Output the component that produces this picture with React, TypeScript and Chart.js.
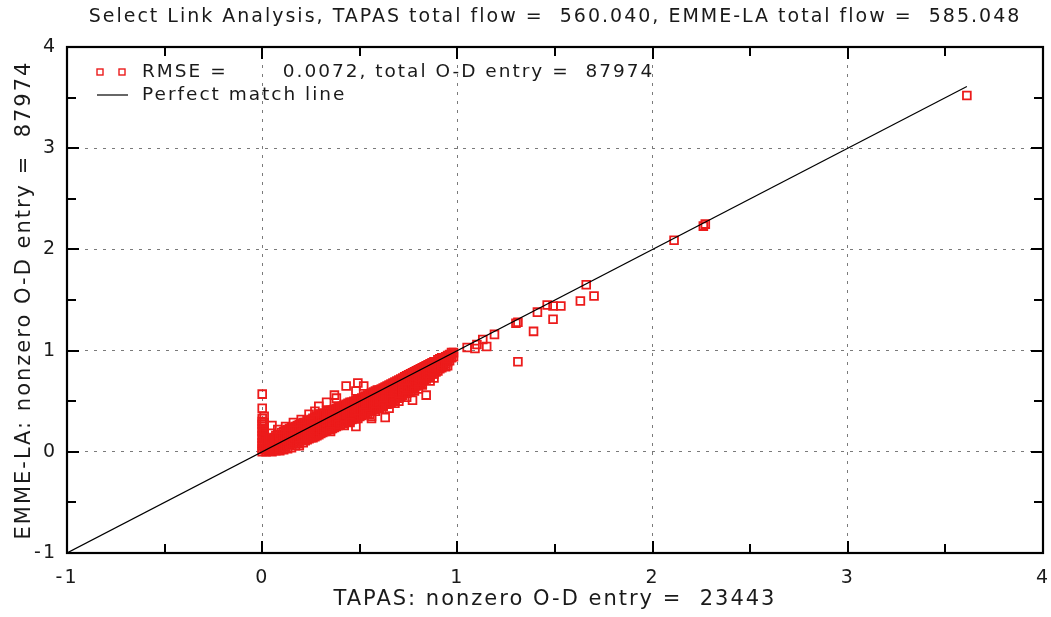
import { useEffect, useRef } from "react";
import { Chart, registerables } from "chart.js";

Chart.register(...registerables);

const titleText = "Select Link Analysis, TAPAS total flow =  560.040, EMME-LA total flow =  585.048";
const xAxisTitle = "TAPAS: nonzero O-D entry =  23443";
const yAxisTitle = "EMME-LA: nonzero O-D entry =  87974";
const scatterLabel = "RMSE =       0.0072, total O-D entry =  87974";
const lineLabel = "Perfect match line";

const axisMin = -1;
const axisMax = 4;
const majorTicks = [-1, 0, 1, 2, 3, 4];
const minorTicks = [-0.5, 0.5, 1.5, 2.5, 3.5];
const gridValues = [0, 1, 2, 3];

// perfect match line end points (TAPAS = EMME-LA)
const matchLine = [-1, 3.61];

// points where TAPAS is ~0
const zeroTapasPoints: [number, number][] = [
  [0, 0.0], [0, 0.03], [0, 0.06], [0, 0.09], [0.01, 0.11], [0, 0.13], [0, 0.16], [0.01, 0.18],
  [0, 0.2], [0, 0.23], [0.01, 0.25], [0, 0.27], [0, 0.3], [0, 0.33], [0.01, 0.35], [0, 0.43], [0, 0.57],
  [0.01, 0.02], [0.01, 0.07], [0.01, 0.14], [0.01, 0.21], [0.01, 0.29],
];

// dense band: TAPAS value, then the EMME-LA values read at that TAPAS value
const bandColumns: [number, number[]][] = [
  [0.02, [0.0, 0.03, 0.06, 0.09]],
  [0.03, [0.01, 0.05, 0.08, 0.11]],
  [0.04, [0.01, 0.04, 0.08, 0.12]],
  [0.05, [0.0, 0.03, 0.07, 0.1, 0.13]],
  [0.06, [0.02, 0.06, 0.1, 0.14]],
  [0.07, [0.01, 0.04, 0.08, 0.12, 0.16]],
  [0.08, [0.02, 0.06, 0.1, 0.14, 0.17]],
  [0.09, [0.01, 0.05, 0.09, 0.13, 0.16]],
  [0.1, [0.03, 0.07, 0.11, 0.15, 0.19]],
  [0.11, [0.02, 0.05, 0.09, 0.13, 0.17, 0.2]],
  [0.12, [0.05, 0.09, 0.13, 0.17, 0.21]],
  [0.13, [0.03, 0.07, 0.11, 0.15, 0.19, 0.22]],
  [0.14, [0.07, 0.11, 0.15, 0.19, 0.23]],
  [0.15, [0.04, 0.09, 0.13, 0.17, 0.21, 0.24]],
  [0.16, [0.08, 0.12, 0.16, 0.2, 0.24]],
  [0.17, [0.06, 0.1, 0.14, 0.18, 0.22, 0.25]],
  [0.18, [0.1, 0.14, 0.18, 0.22, 0.26]],
  [0.19, [0.08, 0.12, 0.16, 0.2, 0.24, 0.27]],
  [0.2, [0.12, 0.16, 0.2, 0.24, 0.28]],
  [0.21, [0.09, 0.14, 0.18, 0.22, 0.26, 0.29]],
  [0.22, [0.11, 0.14, 0.18, 0.22, 0.26, 0.29]],
  [0.23, [0.12, 0.16, 0.2, 0.24, 0.27, 0.31]],
  [0.24, [0.13, 0.16, 0.2, 0.24, 0.28, 0.31]],
  [0.25, [0.14, 0.18, 0.22, 0.25, 0.29, 0.32]],
  [0.26, [0.14, 0.17, 0.21, 0.25, 0.29, 0.33]],
  [0.27, [0.15, 0.19, 0.23, 0.27, 0.31, 0.34]],
  [0.28, [0.16, 0.19, 0.23, 0.27, 0.31, 0.35]],
  [0.29, [0.17, 0.21, 0.25, 0.29, 0.33, 0.36]],
  [0.3, [0.18, 0.21, 0.25, 0.29, 0.33, 0.37]],
  [0.31, [0.19, 0.23, 0.27, 0.31, 0.35, 0.38]],
  [0.32, [0.2, 0.23, 0.27, 0.31, 0.35, 0.38]],
  [0.33, [0.21, 0.25, 0.29, 0.33, 0.37, 0.4]],
  [0.34, [0.22, 0.25, 0.29, 0.33, 0.36, 0.4]],
  [0.35, [0.22, 0.26, 0.3, 0.34, 0.38, 0.41]],
  [0.36, [0.23, 0.26, 0.3, 0.34, 0.38, 0.41]],
  [0.37, [0.24, 0.28, 0.32, 0.35, 0.39, 0.42]],
  [0.38, [0.25, 0.28, 0.32, 0.36, 0.4, 0.43]],
  [0.39, [0.26, 0.3, 0.34, 0.37, 0.41, 0.44]],
  [0.4, [0.27, 0.3, 0.34, 0.37, 0.41, 0.44]],
  [0.41, [0.28, 0.32, 0.35, 0.39, 0.42, 0.45]],
  [0.42, [0.28, 0.31, 0.35, 0.39, 0.43, 0.46]],
  [0.43, [0.3, 0.33, 0.37, 0.4, 0.44, 0.47]],
  [0.44, [0.3, 0.33, 0.37, 0.41, 0.44, 0.48]],
  [0.45, [0.31, 0.35, 0.39, 0.42, 0.46, 0.49]],
  [0.46, [0.32, 0.35, 0.38, 0.42, 0.46, 0.49]],
  [0.47, [0.33, 0.37, 0.4, 0.44, 0.47, 0.5]],
  [0.48, [0.33, 0.36, 0.4, 0.44, 0.47, 0.51]],
  [0.49, [0.35, 0.38, 0.42, 0.45, 0.49, 0.52]],
  [0.5, [0.35, 0.38, 0.42, 0.45, 0.49, 0.52]],
  [0.51, [0.36, 0.4, 0.43, 0.47, 0.5, 0.53]],
  [0.52, [0.37, 0.4, 0.43, 0.47, 0.51, 0.54]],
  [0.53, [0.38, 0.42, 0.45, 0.49, 0.52, 0.55]],
  [0.54, [0.38, 0.41, 0.45, 0.49, 0.52, 0.56]],
  [0.55, [0.4, 0.43, 0.47, 0.5, 0.54, 0.57]],
  [0.56, [0.4, 0.43, 0.47, 0.5, 0.54, 0.58]],
  [0.57, [0.42, 0.45, 0.49, 0.52, 0.56, 0.59]],
  [0.58, [0.42, 0.45, 0.48, 0.52, 0.56, 0.6]],
  [0.59, [0.44, 0.47, 0.5, 0.54, 0.58, 0.61]],
  [0.6, [0.44, 0.47, 0.5, 0.54, 0.58, 0.61]],
  [0.61, [0.46, 0.49, 0.52, 0.56, 0.59, 0.62]],
  [0.62, [0.45, 0.48, 0.52, 0.56, 0.59, 0.63]],
  [0.63, [0.47, 0.5, 0.54, 0.57, 0.61, 0.64]],
  [0.64, [0.47, 0.5, 0.54, 0.57, 0.61, 0.65]],
  [0.65, [0.49, 0.52, 0.56, 0.59, 0.63, 0.66]],
  [0.66, [0.49, 0.52, 0.56, 0.59, 0.63, 0.67]],
  [0.67, [0.51, 0.54, 0.58, 0.61, 0.65, 0.68]],
  [0.68, [0.51, 0.54, 0.58, 0.61, 0.65, 0.69]],
  [0.69, [0.53, 0.56, 0.6, 0.63, 0.67, 0.7]],
  [0.7, [0.53, 0.56, 0.6, 0.63, 0.67, 0.71]],
  [0.71, [0.55, 0.58, 0.62, 0.65, 0.69, 0.72]],
  [0.72, [0.56, 0.58, 0.62, 0.65, 0.69, 0.73]],
  [0.73, [0.58, 0.6, 0.64, 0.67, 0.71, 0.74]],
  [0.74, [0.58, 0.6, 0.64, 0.67, 0.71, 0.75]],
  [0.75, [0.6, 0.63, 0.66, 0.69, 0.73, 0.76]],
  [0.76, [0.6, 0.63, 0.66, 0.7, 0.73, 0.77]],
  [0.77, [0.62, 0.65, 0.68, 0.71, 0.75, 0.78]],
  [0.78, [0.63, 0.65, 0.69, 0.72, 0.75, 0.79]],
  [0.79, [0.65, 0.67, 0.7, 0.74, 0.77, 0.8]],
  [0.8, [0.66, 0.67, 0.71, 0.74, 0.78, 0.81]],
  [0.81, [0.68, 0.7, 0.73, 0.76, 0.79, 0.82]],
  [0.82, [0.7, 0.73, 0.77, 0.8, 0.83]],
  [0.83, [0.71, 0.74, 0.78, 0.81, 0.84]],
  [0.84, [0.72, 0.76, 0.79, 0.82, 0.85]],
  [0.85, [0.74, 0.77, 0.8, 0.83, 0.86]],
  [0.86, [0.75, 0.78, 0.81, 0.84, 0.87]],
  [0.87, [0.77, 0.8, 0.83, 0.86, 0.88]],
  [0.88, [0.77, 0.81, 0.84, 0.87, 0.89]],
  [0.89, [0.79, 0.83, 0.86, 0.89]],
  [0.9, [0.8, 0.84, 0.87, 0.91]],
  [0.91, [0.82, 0.85, 0.88, 0.92]],
  [0.92, [0.83, 0.87, 0.9, 0.93]],
  [0.93, [0.86, 0.89, 0.93]],
  [0.94, [0.87, 0.91, 0.94]],
  [0.95, [0.89, 0.92, 0.95]],
  [0.96, [0.9, 0.94, 0.96]],
  [0.97, [0.93, 0.96]],
  [0.98, [0.94, 0.98]],
];

// scattered entries away from the band
const scatteredPoints: [number, number][] = [
  [0.05, 0.26], [0.19, 0.06], [0.24, 0.37], [0.29, 0.45], [0.33, 0.49], [0.37, 0.56], [0.38, 0.53],
  [0.43, 0.65], [0.49, 0.68], [0.52, 0.65], [0.48, 0.6], [0.39, 0.27], [0.49, 0.33], [0.48, 0.25],
  [0.52, 0.39], [0.56, 0.35], [0.56, 0.33], [0.6, 0.43], [0.62, 0.46], [0.63, 0.34], [0.65, 0.43],
  [0.66, 0.51], [0.72, 0.6], [0.72, 0.7], [0.74, 0.54], [0.74, 0.63], [0.77, 0.51], [0.82, 0.66],
  [0.82, 0.67], [0.84, 0.56], [0.91, 0.88], [0.92, 0.86], [0.94, 0.84], [0.95, 0.85], [0.95, 0.92],
  [0.97, 0.98], [1.05, 1.03], [1.09, 1.02], [1.1, 1.06], [1.13, 1.11], [1.15, 1.04], [1.19, 1.16],
  [1.3, 1.27], [1.31, 1.28], [1.31, 0.89], [1.39, 1.19], [1.41, 1.38], [1.46, 1.45], [1.49, 1.44],
  [1.49, 1.31], [1.53, 1.44], [1.63, 1.49], [1.66, 1.65], [1.7, 1.54], [2.11, 2.09], [2.26, 2.23],
  [2.27, 2.25], [3.61, 3.52],
  [0.35, 0.2], [0.42, 0.26], [0.45, 0.29], [0.55, 0.37], [0.58, 0.4], [0.68, 0.48], [0.7, 0.5],
  [0.78, 0.6], [0.8, 0.62], [0.86, 0.7], [0.88, 0.73], [0.08, 0.22], [0.12, 0.25], [0.16, 0.29],
  [0.2, 0.32], [0.27, 0.4],
];

const FONT = "'DejaVu Sans', Verdana, sans-serif";
const RED = "#ec1b1b";
const TEXT = "#1a1a1a";
const SPACING = "2px";

const letterSpacingPlugin = {
  id: "letterSpacing",
  beforeUpdate(chart: any) {
    chart.ctx.letterSpacing = SPACING;
  },
  beforeDraw(chart: any) {
    chart.ctx.letterSpacing = SPACING;
  },
};

const frameAndLegend = {
  id: "frameAndLegend",
  afterDraw(chart: any) {
    const { ctx, chartArea, scales } = chart;
    const { left, right, top, bottom } = chartArea;
    const xs = scales.x;
    const ys = scales.y;
    ctx.save();
    ctx.strokeStyle = "#000";
    ctx.lineWidth = 2;
    const drawTicks = (vals: number[], len: number) => {
      vals.forEach((v) => {
        const px = Math.round(xs.getPixelForValue(v));
        const py = Math.round(ys.getPixelForValue(v));
        ctx.beginPath();
        ctx.moveTo(px, bottom);
        ctx.lineTo(px, bottom - len);
        ctx.moveTo(px, top);
        ctx.lineTo(px, top + len);
        ctx.moveTo(left, py);
        ctx.lineTo(left + len, py);
        ctx.moveTo(right, py);
        ctx.lineTo(right - len, py);
        ctx.stroke();
      });
    };
    drawTicks(majorTicks, 12);
    drawTicks(minorTicks, 9);
    ctx.lineWidth = 2.2;
    ctx.strokeRect(left, top, right - left, bottom - top);

    // legend
    const ds0 = chart.data.datasets[0];
    const ds1 = chart.data.datasets[1];
    ctx.font = `18.5px ${FONT}`;
    ctx.letterSpacing = SPACING;
    ctx.fillStyle = TEXT;
    ctx.textBaseline = "middle";
    ctx.textAlign = "left";
    const y1 = top + 25;
    const y2 = top + 48;
    ctx.strokeStyle = RED;
    ctx.lineWidth = 1.4;
    [left + 33, left + 55].forEach((cx) => ctx.strokeRect(cx - 3, y1 - 3, 6, 6));
    ctx.fillText(ds0.label, left + 75, y1);
    ctx.strokeStyle = "#000";
    ctx.lineWidth = 1.2;
    ctx.beginPath();
    ctx.moveTo(left + 30, y2);
    ctx.lineTo(left + 61, y2);
    ctx.stroke();
    ctx.fillText(ds1.label, left + 75, y2);
    ctx.restore();
  },
};

export default function App() {
  const ref = useRef<HTMLCanvasElement | null>(null);

  useEffect(() => {
    document.body.style.margin = "0";
    const canvas = ref.current;
    if (!canvas) return;
    const bandPoints: [number, number][] = [];
    bandColumns.forEach(([x, ys]) => ys.forEach((y) => bandPoints.push([x, y])));
    const allPoints = [...zeroTapasPoints, ...bandPoints, ...scatteredPoints].map(([x, y]) => ({ x, y }));
    const gridColor = (c: any) => (gridValues.includes(c.tick?.value) ? "#7a7a7a" : "rgba(0,0,0,0)");
    const chart = new Chart(canvas, {
      type: "scatter",
      data: {
        datasets: [
          {
            label: scatterLabel,
            data: allPoints,
            pointStyle: "rect",
            radius: 5.5,
            borderColor: RED,
            backgroundColor: "rgba(0,0,0,0)",
            borderWidth: 1.8,
            order: 2,
          },
          {
            type: "line",
            label: lineLabel,
            data: matchLine.map((v) => ({ x: v, y: v })),
            borderColor: "#000",
            borderWidth: 1.2,
            pointRadius: 0,
            fill: false,
            order: 1,
          } as any,
        ],
      },
      options: {
        responsive: false,
        animation: false,
        events: [],
        layout: { padding: { left: 0, right: 8, top: 0, bottom: 0 } },
        plugins: {
          legend: { display: false },
          tooltip: { enabled: false },
          title: {
            display: true,
            fullSize: false,
            text: titleText,
            color: TEXT,
            font: { family: FONT, size: 19, weight: "normal" },
            padding: { top: 5.6, bottom: 18.6 },
          },
        },
        scales: {
          x: {
            type: "linear",
            min: axisMin,
            max: axisMax,
            afterBuildTicks: (s: any) => {
              s.ticks = majorTicks.map((v) => ({ value: v }));
            },
            ticks: { color: TEXT, font: { family: FONT, size: 19 }, padding: 14, maxRotation: 0 },
            grid: { drawTicks: false, color: gridColor, lineWidth: 1 },
            border: { display: false, dash: [3, 6] },
            title: {
              display: true,
              text: xAxisTitle,
              color: TEXT,
              font: { family: FONT, size: 21 },
              padding: { top: 0, bottom: 4.4 },
            },
            afterFit: (s: any) => {
              s.height = 64;
              s.paddingRight = 0;
              s.paddingLeft = 0;
            },
          },
          y: {
            type: "linear",
            min: axisMin,
            max: axisMax,
            afterBuildTicks: (s: any) => {
              s.ticks = majorTicks.map((v) => ({ value: v }));
            },
            ticks: { color: TEXT, font: { family: FONT, size: 19 }, padding: 10 },
            grid: { drawTicks: false, color: gridColor, lineWidth: 1 },
            border: { display: false, dash: [3, 6] },
            title: {
              display: true,
              text: yAxisTitle,
              color: TEXT,
              font: { family: FONT, size: 21 },
              padding: { top: 12.4, bottom: 0 },
            },
            afterFit: (s: any) => {
              s.width = 67;
              s.paddingTop = 0;
              s.paddingBottom = 0;
            },
          },
        },
      },
      plugins: [letterSpacingPlugin, frameAndLegend],
    });
    return () => chart.destroy();
  }, []);

  return <canvas ref={ref} width={1051} height={617} style={{ display: "block" }} />;
}
